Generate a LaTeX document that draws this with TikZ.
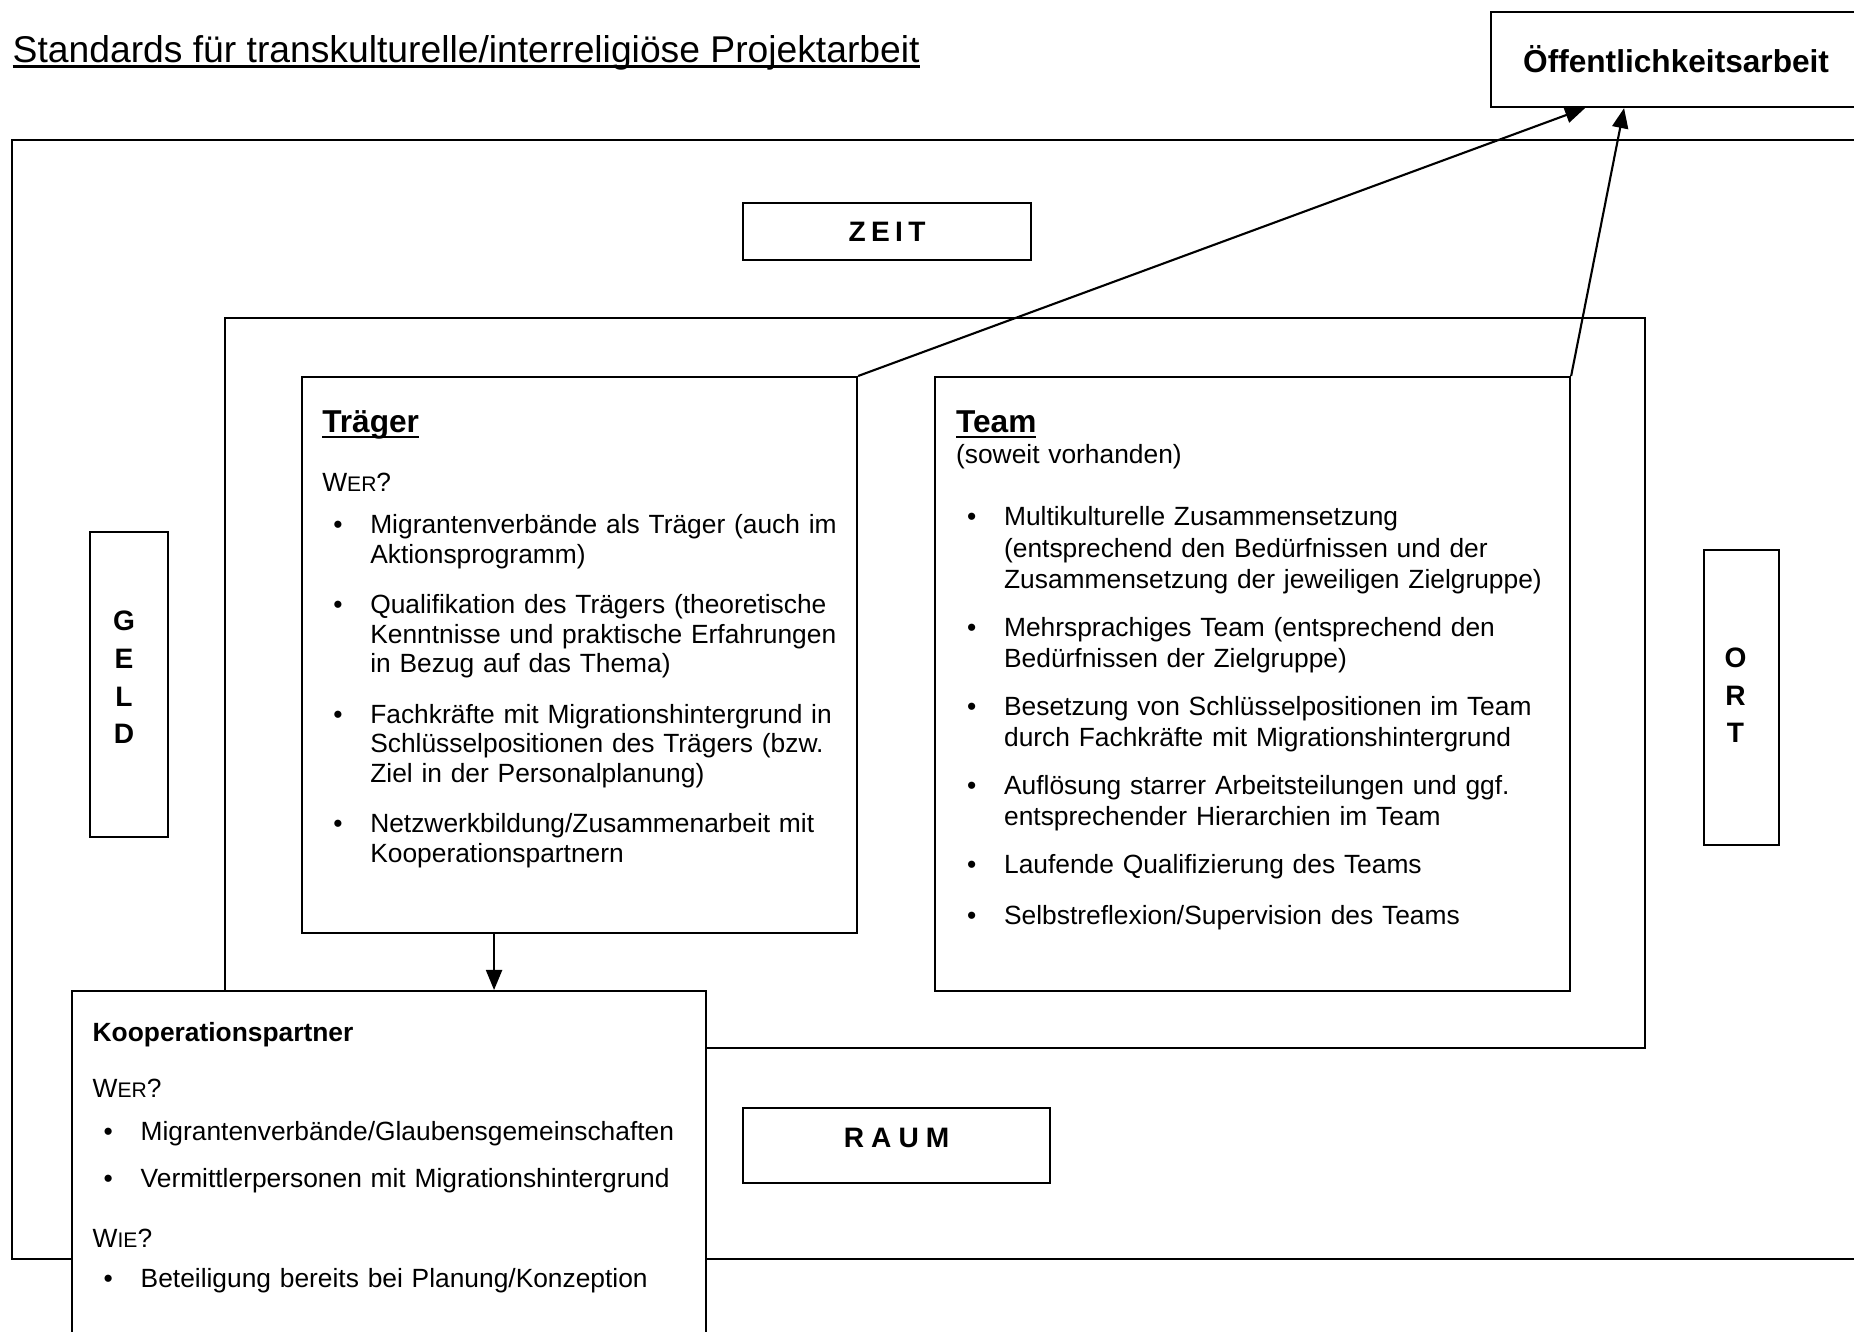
\documentclass[tikz,border=0pt]{standalone}
\usepackage{fontspec}
\setmainfont{Liberation Sans}
\usetikzlibrary{arrows.meta}
\setlength{\parindent}{0pt}

\tikzset{
  kasten/.style={draw, line width=0.6pt, inner sep=0pt, anchor=north west},
  inhalt/.style={anchor=north west, inner sep=0pt, align=left, text width=6.6cm},
  buchst/.style={inner sep=0pt, align=center, font=\fontsize{8}{10.7}\selectfont\bfseries},
  pfeil/.style={-{Triangle[length=2mm,width=1.6mm]}, line width=0.6pt}
}
\newcommand{\kapit}[1]{{\fontsize{6}{7}\selectfont #1}}
\newcommand{\unterstr}[1]{\setbox0\hbox{#1}\rlap{\rule[-1.5pt]{\wd0}{0.7pt}}\box0}
\newcommand{\punkt}[1]{\noindent\hspace*{1.1mm}\makebox[3.7mm][l]{\textbullet}\parbox[t]{6cm}{#1}\par}

\begin{document}
\begin{tikzpicture}
\useasboundingbox (0,0) rectangle (18.54,-13.32);
\clip (0,0) rectangle (18.54,-13.32);

%Rahmen
\draw[line width=0.6pt] (0.12,-1.40) rectangle (19.2,-12.59);
\draw[line width=0.6pt] (2.25,-3.18) rectangle (16.45,-10.48);

\node[anchor=base west, inner sep=0pt, font=\fontsize{10.6}{12}\selectfont] (titel) at (0.12,-0.627) {\unterstr{Standards für transkulturelle/interreligiöse Projektarbeit}};

\node[kasten, minimum width=3.70cm, minimum height=0.95cm, font=\fontsize{9}{11}\selectfont\bfseries] (oeff) at (14.90,-0.11) {Öffentlichkeitsarbeit};
\node[kasten, minimum width=2.88cm, minimum height=0.57cm, font=\fontsize{8}{10}\selectfont\bfseries] (zeit) at (7.42,-2.02) {Z\kern1.5pt E\kern1.5pt I\kern1.5pt T};

\node[kasten, minimum width=3.07cm, minimum height=0.75cm] (raum) at (7.42,-11.07) {};
\node[buchst] (raumtext) at ([yshift=0.08cm]raum.center) {R\kern2pt A\kern2pt U\kern2pt M};

\node[kasten, minimum width=0.78cm, minimum height=3.05cm] (geld) at (0.89,-5.31) {};
\node[buchst] (geldtext) at ([xshift=-0.05cm,yshift=0.07cm]geld.center) {G\\E\\L\\D};

\node[kasten, minimum width=0.75cm, minimum height=2.95cm] (ort) at (17.03,-5.49) {};
\node[buchst] (orttext) at ([xshift=-0.06cm,yshift=0.02cm]ort.center) {O\\R\\T};

%Traeger
\node[kasten, minimum width=5.55cm, minimum height=5.56cm] (traeger) at (3.01,-3.76) {};
\node[inhalt, font=\fontsize{7.5}{8.45}\selectfont] (traegertext) at ([shift={(0.206,-0.26)}]traeger.north west) {%
\rule{0pt}{3mm}{\fontsize{9}{10}\selectfont\bfseries\unterstr{Träger}}\par
\vspace{8.4pt}
W\kapit{ER}?\par
\vspace{3.4pt}
\punkt{Migrantenverbände als Träger (auch im\\Aktionsprogramm)}
\vspace{6.3pt}
\punkt{Qualifikation des Trägers (theoretische\\Kenntnisse und praktische Erfahrungen\\in Bezug auf das Thema)}
\vspace{6.3pt}
\punkt{Fachkräfte mit Migrationshintergrund in\\Schlüsselpositionen des Trägers (bzw.\\Ziel in der Personalplanung)}
\vspace{6.3pt}
\punkt{Netzwerkbildung/Zusammenarbeit mit\\Kooperationspartnern}};

%Team
\node[kasten, minimum width=6.35cm, minimum height=6.14cm] (team) at (9.34,-3.76) {};
\node[inhalt, font=\fontsize{7.5}{9.0}\selectfont] (teamtext) at ([shift={(0.214,-0.26)}]team.north west) {%
\rule{0pt}{3mm}{\fontsize{9}{10}\selectfont\bfseries\unterstr{Team}}\par
\vspace{-0.3pt}
(soweit vorhanden)\par
\vspace{8.7pt}
\punkt{Multikulturelle Zusammensetzung\\(entsprechend den Bedürfnissen und der\\Zusammensetzung der jeweiligen Zielgruppe)}
\vspace{5.5pt}
\punkt{Mehrsprachiges Team (entsprechend den\\Bedürfnissen der Zielgruppe)}
\vspace{5.5pt}
\punkt{Besetzung von Schlüsselpositionen im Team\\durch Fachkräfte mit Migrationshintergrund}
\vspace{5.5pt}
\punkt{Auflösung starrer Arbeitsteilungen und ggf.\\entsprechender Hierarchien im Team}
\vspace{5.5pt}
\punkt{Laufende Qualifizierung des Teams}
\vspace{5.5pt}
\punkt{Selbstreflexion/Supervision des Teams}};

%Kooperationspartner
\node[kasten, fill=white, minimum width=6.34cm, minimum height=3.70cm] (koop) at (0.71,-9.90) {};
\node[inhalt, font=\fontsize{7.5}{8.6}\selectfont] (kooptext) at ([shift={(0.21,-0.21)}]koop.north west) {%
\rule{0pt}{3mm}\textbf{Kooperationspartner}\par
\vspace{7.4pt}
W\kapit{ER}?\par
\vspace{3.6pt}
\punkt{Migrantenverbände/Glaubensgemeinschaften}
\vspace{4.8pt}
\punkt{Vermittlerpersonen mit Migrationshintergrund}
\vspace{8.4pt}
W\kapit{IE}?\par
\vspace{2.8pt}
\punkt{Beteiligung bereits bei Planung/Konzeption}};

%Pfeile
\draw[pfeil] (traeger.north east) -- ([xshift=-9.1mm]oeff.south);
\draw[pfeil] (team.north east) -- ([xshift=-5.2mm]oeff.south);
\draw[pfeil] ([xshift=-8.55mm]traeger.south) -- ([xshift=-8.55mm]traeger.south |- koop.north);
\end{tikzpicture}
\end{document}
